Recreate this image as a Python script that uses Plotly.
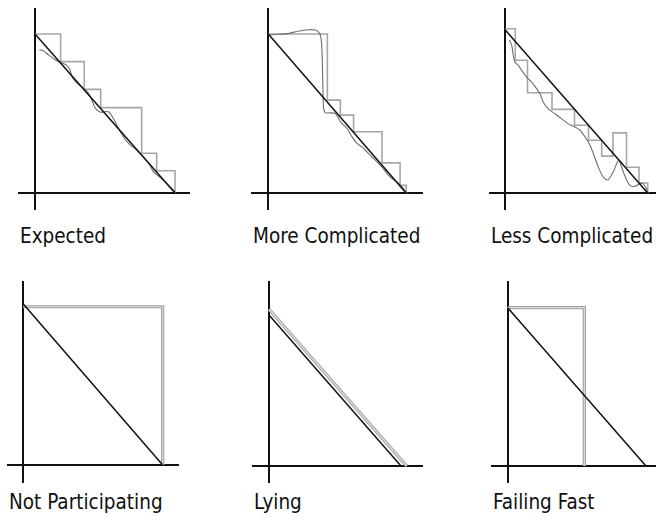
import plotly.graph_objects as go

W, H = 656, 524

# ---------------------------------------------------------------
# data: every panel uses a unit scale, ideal line (0,1) -> (1,0)
# ---------------------------------------------------------------
ideal_x = [0, 1]
ideal_y = [1, 0]

expected_step_x = [0, 0.183, 0.352, 0.469, 0.762, 0.869, 1.0]
expected_step_y = [1.0, 0.826, 0.652, 0.537, 0.25, 0.14, 0.0]
expected_curve_x = [0.031, 0.059, 0.095, 0.143, 0.191, 0.226, 0.25, 0.262, 0.298, 0.345, 0.381, 0.405, 0.429,
                    0.464, 0.524, 0.559, 0.584, 0.631, 0.679, 0.726, 0.774, 0.821, 0.845, 0.893, 0.941, 1.0]
expected_curve_y = [0.901, 0.895, 0.870, 0.838, 0.818, 0.803, 0.775, 0.734, 0.692, 0.660, 0.629, 0.587, 0.535,
                    0.509, 0.511, 0.470, 0.428, 0.354, 0.302, 0.270, 0.228, 0.176, 0.134, 0.099, 0.061, 0.008]

more_step_x = [0, 0.428, 0.522, 0.618, 0.824, 0.955, 1.0]
more_step_y = [1.0, 0.585, 0.491, 0.386, 0.191, 0.05, 0.0]
more_curve_x = [0.005, 0.078, 0.150, 0.222, 0.295, 0.343, 0.372, 0.384, 0.391, 0.396, 0.401, 0.413, 0.449, 0.486,
                0.509, 0.534, 0.570, 0.607, 0.643, 0.679, 0.715, 0.751, 0.788, 0.824, 0.860, 0.896, 0.933, 0.969, 1.0]
more_curve_y = [0.994, 0.998, 1.004, 1.019, 1.027, 1.025, 1.004, 0.962, 0.849, 0.637, 0.533, 0.505, 0.505, 0.501,
                0.470, 0.438, 0.407, 0.354, 0.313, 0.291, 0.260, 0.228, 0.197, 0.165, 0.124, 0.093, 0.071, 0.040, 0.005]

less_step_x = [0, 0.070, 0.156, 0.328, 0.486, 0.584, 0.677, 0.756, 0.851, 0.939, 1.0]
less_step_y = [1.008, 0.814, 0.615, 0.513, 0.416, 0.324, 0.226, 0.369, 0.158, 0.061, 0.0]
less_curve_x = [0.028, 0.045, 0.056, 0.068, 0.091, 0.115, 0.150, 0.185, 0.221, 0.244, 0.267, 0.302, 0.349, 0.396,
                0.442, 0.478, 0.525, 0.560, 0.595, 0.618, 0.653, 0.688, 0.721, 0.758, 0.796, 0.829, 0.853, 0.876,
                0.911, 0.946, 0.965, 0.981, 1.0]
less_curve_y = [0.938, 0.906, 0.845, 0.803, 0.783, 0.752, 0.711, 0.680, 0.639, 0.608, 0.557, 0.516, 0.486, 0.455,
                0.424, 0.410, 0.385, 0.344, 0.293, 0.242, 0.160, 0.098, 0.080, 0.129, 0.200, 0.129, 0.078, 0.047,
                0.041, 0.058, 0.058, 0.041, 0.004]

notpart_x = [0, 1, 1]
notpart_y = [0.983, 0.983, 0]

lying_x = [0, 1.043]
lying_y = [1.038, 0]

failfast_x = [0, 0.554, 0.554]
failfast_y = [1, 1, 0]

labels = ["Expected", "More Complicated", "Less Complicated",
          "Not Participating", "Lying", "Failing Fast"]

# ---------------------------------------------------------------
# panel geometry in pixels: box (left, top, right, bottom), origin, unit size
# ---------------------------------------------------------------
panels = [
    dict(box=(18, 8, 190, 210), origin=(35, 193), unit=(140, 159), label_y=236),
    dict(box=(251, 8, 422.7, 210), origin=(268.3, 193.3), unit=(138, 159.3), label_y=236),
    dict(box=(488.7, 8, 656, 210), origin=(505.3, 193), unit=(142.4, 163), label_y=236),
    dict(box=(6.7, 280.7, 179.3, 482.7), origin=(23.3, 465), unit=(139.4, 161), label_y=502),
    dict(box=(251.7, 280.7, 423.3, 482.7), origin=(269, 466), unit=(132, 151), label_y=502),
    dict(box=(491, 280.7, 656, 482.7), origin=(507.7, 466), unit=(138.3, 158.3), label_y=502),
]

STEP = "#a6a6a6"
CURVE = "#6e6e6e"
INK = "#111111"

fig = go.Figure()


def axis_names(i):
    s = "" if i == 0 else str(i + 1)
    return "x" + s, "y" + s, "xaxis" + s, "yaxis" + s


def add_line(i, x, y, color, width, shape="linear", smoothing=None):
    xa, ya, _, _ = axis_names(i)
    line = dict(color=color, width=width, shape=shape)
    if smoothing is not None:
        line["smoothing"] = smoothing
    fig.add_trace(go.Scatter(x=x, y=y, mode="lines", line=line,
                             xaxis=xa, yaxis=ya, hoverinfo="skip"))


def add_double(i, x, y):
    add_line(i, x, y, "#9c9c9c", 3.2)
    add_line(i, x, y, "#dedede", 1.2)


# top row: step reports + smooth curves
add_line(0, expected_step_x, expected_step_y, STEP, 1.6, "hv")
add_line(0, expected_curve_x, expected_curve_y, CURVE, 1.1, "spline", 0.8)
add_line(1, more_step_x, more_step_y, STEP, 1.6, "hv")
add_line(1, more_curve_x, more_curve_y, CURVE, 1.1, "spline", 0.6)
add_line(2, less_step_x, less_step_y, STEP, 1.6, "hv")
add_line(2, less_curve_x, less_curve_y, CURVE, 1.1, "spline", 0.7)

# bottom row: double gray reports
add_double(3, notpart_x, notpart_y)
add_double(4, lying_x, lying_y)
add_double(5, failfast_x, failfast_y)

# ideal line on top everywhere
for i in range(6):
    add_line(i, ideal_x, ideal_y, INK, 1.5)

layout = dict(width=W, height=H, margin=dict(l=0, r=0, t=0, b=0),
              paper_bgcolor="white", plot_bgcolor="rgba(0,0,0,0)", showlegend=False)

annotations = []
for i, p in enumerate(panels):
    left, top, right, bottom = p["box"]
    ox, oy = p["origin"]
    ux, uy = p["unit"]
    _, _, xk, yk = axis_names(i)
    xa, ya, _, _ = axis_names(i)
    common = dict(showgrid=False, showticklabels=False, ticks="", showline=False,
                  zeroline=True, zerolinecolor=INK, zerolinewidth=1.5, fixedrange=True)
    layout[xk] = dict(domain=[left / W, right / W],
                      range=[(left - ox) / ux, (right - ox) / ux], anchor=ya, **common)
    layout[yk] = dict(domain=[1 - bottom / H, 1 - top / H],
                      range=[(oy - bottom) / uy, (oy - top) / uy], anchor=xa, **common)
    annotations.append(dict(text=labels[i], xref="paper", yref="paper",
                            x=left / W, y=1 - p["label_y"] / H,
                            xanchor="left", yanchor="middle", showarrow=False,
                            font=dict(family="DejaVu Sans Condensed, Liberation Sans Narrow, Arial",
                                      size=20.5, color=INK)))

layout["annotations"] = annotations
fig.update_layout(**layout)

# page body has a default 8px margin; drop it so the figure sits at (0, 0)
fig.write_html("out.html", config={"displayModeBar": False},
               post_script="document.body.style.margin='0';")
